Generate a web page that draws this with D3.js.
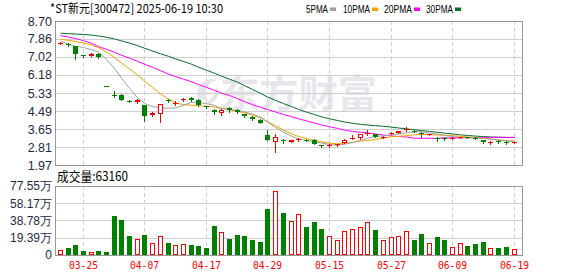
<!DOCTYPE html>
<html><head><meta charset="utf-8">
<script src="https://cdn.jsdelivr.net/npm/d3@7"></script>
<style>html,body{margin:0;padding:0;background:#fff;overflow:hidden}</style>
</head><body><svg id="c" width="578" height="276"></svg>
<script>
const dates=["03-20","03-21","03-24","03-25","03-26","03-27","03-28","03-31",
"04-01","04-02","04-03","04-07","04-08","04-09","04-10","04-11","04-14","04-15","04-16","04-17","04-18","04-21","04-22","04-23","04-24","04-25","04-28","04-29",
"05-06","05-07","05-08","05-09","05-12","05-13","05-14","05-15","05-16","05-19","05-20","05-21","05-22","05-23","05-26","05-27","05-28","05-29","05-30",
"06-03","06-04","06-05","06-06","06-09","06-10","06-11","06-12","06-13","06-16","06-17","06-18","06-19"];
const open =[7.66,7.64,7.51,7.09,7.08,7.17,5.66,5.26,5.26,4.96, 4.90,4.76,4.30,4.36,5.02,4.87,4.99,5.12,5.00,4.72, 4.55,4.38,4.63,4.55,4.35,4.22,4.08,3.36,3.04,3.16, 3.05,3.15,3.16,3.16,2.90,2.87,2.89,3.02,3.22,3.21, 3.42,3.40,3.27,3.43,3.48,3.61,3.57,3.47,3.38,3.25, 3.25,3.20,3.24,3.27,3.25,3.12,2.99,3.11,3.06,3.01];
const high =[7.71,7.66,7.53,7.12,7.22,7.20,5.66,5.45,5.29,5.02, 5.07,4.78,4.44,4.84,5.06,4.98,5.08,5.16,5.04,4.75, 4.60,4.58,4.68,4.57,4.37,4.24,4.10,3.62,3.43,3.20, 3.15,3.24,3.19,3.18,2.92,2.95,2.95,3.17,3.37,3.42, 3.60,3.43,3.34,3.52,3.58,3.73,3.62,3.50,3.43,3.29, 3.27,3.29,3.28,3.29,3.27,3.14,3.07,3.12,3.07,3.05];
const low  =[7.64,7.54,6.94,7.04,7.06,6.99,5.65,5.17,4.99,4.93, 4.85,4.02,4.26,3.96,4.90,4.79,4.98,4.94,4.72,4.64, 4.36,4.33,4.47,4.42,4.23,4.09,3.93,3.16,2.60,3.02, 3.03,3.09,3.07,2.94,2.82,2.83,2.87,3.00,3.20,3.19, 3.38,3.26,3.24,3.40,3.47,3.56,3.52,3.28,3.36,3.09, 3.16,3.17,3.22,3.21,3.17,3.02,2.97,2.99,2.95,3.00];
const close=[7.69,7.57,7.17,7.07,7.17,7.03,5.65,5.26,5.03,4.95, 4.99,4.25,4.40,4.83,4.94,4.89,5.06,4.99,4.78,4.68, 4.43,4.54,4.52,4.44,4.25,4.11,3.95,3.16,3.26,3.08, 3.13,3.17,3.09,2.95,2.84,2.89,2.93,3.16,3.24,3.40, 3.45,3.27,3.30,3.46,3.57,3.64,3.57,3.44,3.41,3.22, 3.18,3.25,3.27,3.23,3.19,3.04,3.05,3.07,3.01,3.04];
// volume in 万
const volume=[6.0,7.6,11.0,4.2,3.8,4.2,3.0,43.8,39.3,21.2, 18.5,22.3,14.0,20.8,14.0,11.7,12.9,11.0,9.8,7.6, 32.5,25.3,17.8,22.3,21.2,16.6,14.4,51.8,71.8,47.3, 37.8,45.7,31.4,37.0,29.1,20.8,16.3,26.5,28.7,31.0, 36.7,28.0,16.3,19.7,20.8,26.5,16.6,23.4,14.0,20.0, 16.6,9.5,14.0,9.8,12.1,14.4,8.3,7.6,8.7,6.316];
const ma5 =[7.76,7.62,7.52,7.46,7.36,7.25,6.90,6.48,6.03,5.55, 5.12,4.85,4.70,4.64,4.63,4.64,4.76,4.90,4.90,4.84, 4.75,4.62,4.57,4.52,4.45,4.35,4.20,3.98,3.72,3.50, 3.32,3.18,3.11,3.06,3.00,2.93,2.90,2.94,3.02,3.12, 3.22,3.30,3.34,3.37,3.42,3.47,3.52,3.53,3.46,3.42, 3.36,3.30,3.26,3.24,3.23,3.21,3.17,3.14,3.11,3.05];
const ma10=[7.84,7.80,7.74,7.67,7.58,7.45,7.25,7.00,6.74,6.46, 6.18,5.88,5.60,5.30,5.05,4.88,4.79,4.76,4.74,4.72, 4.68,4.62,4.55,4.48,4.40,4.30,4.18,4.00,3.80,3.60, 3.43,3.30,3.21,3.12,3.05,2.99,2.96,2.98,3.03,3.08, 3.12,3.16,3.23,3.29,3.31,3.34,3.38,3.40,3.39,3.37, 3.36,3.34,3.31,3.28,3.25,3.22,3.19,3.14,3.11,3.09];
const ma20=[8.02,7.95,7.88,7.78,7.66,7.50,7.38,7.24,7.10,6.96, 6.82,6.68,6.54,6.38,6.22,6.10,5.98,5.86,5.73,5.60, 5.46,5.33,5.22,5.07,4.93,4.79,4.67,4.56,4.45,4.33, 4.23,4.13,4.03,3.93,3.84,3.76,3.68,3.60,3.54,3.50, 3.47,3.42,3.37,3.33,3.30,3.28,3.22,3.22,3.22,3.21, 3.24,3.24,3.24,3.25,3.25,3.26,3.26,3.26,3.26,3.25];
const ma30=[8.13,8.11,8.09,8.07,8.04,8.00,7.94,7.86,7.77,7.67, 7.55,7.43,7.30,7.17,7.05,6.93,6.81,6.68,6.54,6.40, 6.26,6.12,5.98,5.84,5.68,5.50,5.32,5.15,4.99,4.84, 4.70,4.57,4.44,4.33,4.22,4.13,4.05,3.98,3.92,3.87, 3.84,3.81,3.78,3.74,3.70,3.66,3.62,3.58,3.54,3.50, 3.46,3.42,3.38,3.35,3.32,3.30,3.28,3.27,3.26,3.26];
const priceTicks=[8.70,7.86,7.02,6.18,5.33,4.49,3.65,2.81,1.97];
const volTicks=[0,19.39,38.78,58.17,77.55];
const xTicks=["03-25","04-07","04-17","04-29","05-15","05-27","06-09","06-19"];
const title="*ST新元[300472] 2025-06-19 10:30";
const maNames=["5PMA","10PMA","20PMA","30PMA"];
const maColors=["#a0a0a0","#f5a300","#ff00ff","#0a6b2c"];

const RED="#ff0000",GREEN="#008000";
const svg=d3.select('#c');
const L=55,R=522,PT=21,PB=165,VT=186,VB=255;
const x=d3.scaleBand().domain(dates).range([56.5,517.9]);
const cx=d=>Math.round(x(d)+x.bandwidth()/2-0.5)+0.5;
const y=d3.scaleLinear().domain([1.97,8.70]).range([PB,PT]);
const yv=d3.scaleLinear().domain([0,77.55]).range([VB,VT]);

// watermark
const wm=svg.append('g').attr('fill','#e6e6ec');
wm.append('path').attr('d','M199,100 C193,88 204,76 218,80 C208,82 203,90 207,99 Z').attr('fill','#e4e4ea');
wm.append('path').attr('d','M203,104 C214,106 222,96 217,86 C216,95 210,101 203,104 Z').attr('fill','#e4e4ea');
wm.append('text').attr('x',220).attr('y',107).attr('font-family','Noto Sans CJK SC').attr('font-weight','bold')
  .attr('font-size',38).attr('textLength',157).attr('lengthAdjust','spacingAndGlyphs').text('东方财富');

// gridlines
const g=svg.append('g');
priceTicks.slice(1,-1).forEach(t=>{
  const yy=Math.round(y(t))+0.5;
  g.append('line').attr('x1',L).attr('x2',R).attr('y1',yy).attr('y2',yy).attr('stroke','#cfcfcf');
});
volTicks.slice(1,-1).forEach(t=>{
  const yy=Math.round(yv(t))+0.5;
  g.append('line').attr('x1',L).attr('x2',R).attr('y1',yy).attr('y2',yy).attr('stroke','#cfcfcf');
});
xTicks.forEach(d=>{
  const xx=cx(d);
  [[PT,PB],[VT,VB]].forEach(([a,b])=>g.append('line').attr('x1',xx).attr('x2',xx).attr('y1',a).attr('y2',b)
     .attr('stroke','#cfcfcf').attr('stroke-dasharray','4,3'));
});

// MA lines
const mas=[ma5,ma10,ma20,ma30];
const line=d3.line().x((v,i)=>cx(dates[i])).y(v=>y(v));
[3,2,1,0].forEach(k=>{
  svg.append('path').attr('d',line(mas[k])).attr('fill','none').attr('stroke',maColors[k]).attr('stroke-width',1);
});

// candles (colour by close vs open; a doji takes the colour of close vs previous close)
const isUp=i=> close[i]>open[i] || (close[i]===open[i] && (i===0 || close[i]>=close[i-1]));
const cg=svg.append('g').attr('shape-rendering','crispEdges');
dates.forEach((d,i)=>{
  const xx=cx(d), up=isUp(i), col=up?RED:GREEN;
  const yt=Math.round(y(Math.max(open[i],close[i]))), yb=Math.round(y(Math.min(open[i],close[i])));
  cg.append('line').attr('x1',xx).attr('x2',xx).attr('y1',Math.round(y(high[i]))).attr('y2',Math.round(y(low[i]))+1).attr('stroke',col);
  const h=Math.max(1,yb-yt);
  if(up && h>2){
    cg.append('rect').attr('x',xx-2).attr('y',yt+0.5).attr('width',4).attr('height',h-1).attr('fill','#fff').attr('stroke',col);
  } else {
    cg.append('rect').attr('x',xx-2.5).attr('y',yt).attr('width',5).attr('height',h).attr('fill',col);
  }
});

// volume bars (same colour as the candle)
const vg=svg.append('g').attr('shape-rendering','crispEdges');
dates.forEach((d,i)=>{
  const xx=cx(d), up=isUp(i), col=up?RED:GREEN;
  const yt=Math.round(yv(volume[i])), h=VB-yt;
  if(up){
    vg.append('rect').attr('x',xx-2).attr('y',yt+0.5).attr('width',4).attr('height',Math.max(0,h-1)).attr('fill','#fff').attr('stroke',col);
  } else {
    vg.append('rect').attr('x',xx-2.5).attr('y',yt).attr('width',5).attr('height',h).attr('fill',col);
  }
});

// frames
[[PT,PB],[VT,VB]].forEach(([a,b])=>{
  svg.append('rect').attr('x',L+0.5).attr('y',a+0.5).attr('width',R-L).attr('height',b-a)
    .attr('fill','none').attr('stroke','#999').attr('shape-rendering','crispEdges');
});

// axes
const ay=svg.append('g').attr('transform',`translate(${L},0)`)
  .call(d3.axisLeft(y).tickValues(priceTicks).tickFormat(d3.format('.2f')).tickSize(0).tickPadding(3));
ay.select('.domain').remove();
ay.selectAll('text').attr('font-family','Liberation Sans, Arial, sans-serif').attr('font-size',12.5).attr('fill','#1f2a44');

const av=svg.append('g').attr('transform',`translate(${L},0)`)
  .call(d3.axisLeft(yv).tickValues(volTicks).tickFormat(v=>v===0?'0':v.toFixed(2)+'万').tickSize(0).tickPadding(3));
av.select('.domain').remove();
av.selectAll('text').attr('font-family','Liberation Sans, Arial, sans-serif').attr('font-size',12).attr('fill','#1f2a44');

const ax=svg.append('g').attr('transform',`translate(0,${VB})`)
  .call(d3.axisBottom(x).tickValues(xTicks).tickSize(0).tickPadding(6));
ax.select('.domain').remove();
ax.selectAll('.tick').attr('transform',d=>`translate(${cx(d)},0)`);
ax.selectAll('text').attr('font-family','DejaVu Sans Mono, monospace').attr('font-size',11).attr('fill',RED)
  .attr('textLength',29).attr('lengthAdjust','spacingAndGlyphs');

// title & legend
svg.append('text').attr('x',50).attr('y',13).attr('font-family','Noto Sans CJK SC').attr('font-size',12)
  .attr('fill','#000').attr('textLength',173).attr('lengthAdjust','spacingAndGlyphs').text(title);
const legX=[306,343,384,426], legW=[22,27,28,27];
maNames.forEach((n,k)=>{
  svg.append('text').attr('x',legX[k]).attr('y',13).attr('font-family','Liberation Sans, Arial, sans-serif').attr('font-size',11)
    .attr('fill','#000').attr('textLength',legW[k]).attr('lengthAdjust','spacingAndGlyphs').text(n);
  svg.append('rect').attr('x',legX[k]+legW[k]+2).attr('y',7.5).attr('width',6).attr('height',3.5).attr('fill',maColors[k]);
});
svg.append('text').attr('x',57).attr('y',181).attr('font-family','Noto Sans CJK SC').attr('font-size',13)
  .attr('fill','#000').attr('textLength',71).attr('lengthAdjust','spacingAndGlyphs')
  .text('成交量:'+Math.round(volume[volume.length-1]*10000));
</script></body></html>
